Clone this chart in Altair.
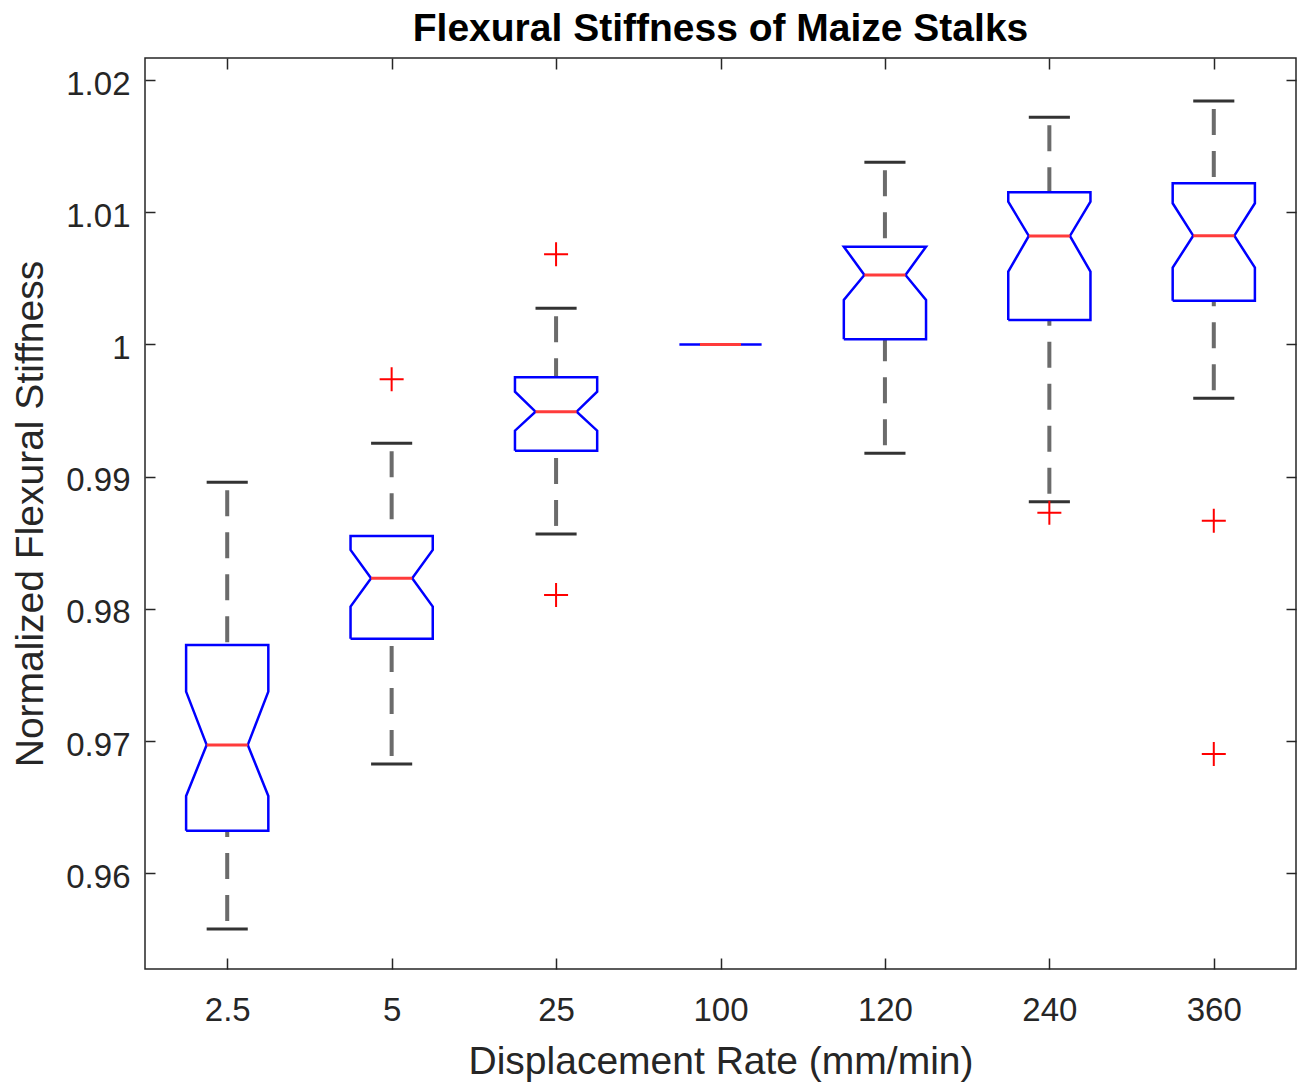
import json
import altair as alt
import pandas as pd

# ---------------- data ----------------
categories = ["2.5", "5", "25", "100", "120", "240", "360"]
whisker_low = [0.95579, 0.96827, 0.98567, 1.00000, 0.99177, 0.98811, 0.99593]
q1 = [0.96322, 0.97775, 0.99197, 1.00000, 1.00039, 1.00185, 1.00331]
notch_low = [0.96585, 0.98017, 0.99348, 1.00000, 1.00337, 1.00551, 1.00581]
median = [0.96971, 0.98231, 0.99492, 1.00000, 1.00526, 1.00821, 1.00823]
notch_high = [0.97374, 0.98446, 0.99643, 1.00000, 1.00740, 1.01080, 1.01068]
q3 = [0.97727, 0.98551, 0.99752, 1.00000, 1.00740, 1.01151, 1.01219]
whisker_high = [0.98958, 0.99253, 1.00274, 1.00000, 1.01378, 1.01719, 1.01842]
outlier_group = ["5", "25", "25", "240", "360", "360"]
outlier_value = [0.99737, 1.00682, 0.98105, 0.98728, 0.98667, 0.96902]
y_ticks = [0.96, 0.97, 0.98, 0.99, 1.0, 1.01, 1.02]

# ---------------- styling constants ----------------
BOX_HALF = 0.25
NOTCH_HALF = 0.125
CAP_HALF = 0.125
FONT = "Liberation Sans"
AXCOL = "#262626"
PLOT_W, PLOT_H = 1151, 911

# ---------------- derived tables ----------------
poly_rows, whisk_rows, cap_rows, med_rows = [], [], [], []
for i, c in enumerate(categories):
    xc = i + 1
    verts = [
        (-BOX_HALF, q1[i]), (-BOX_HALF, notch_low[i]), (-NOTCH_HALF, median[i]),
        (-BOX_HALF, notch_high[i]), (-BOX_HALF, q3[i]), (BOX_HALF, q3[i]),
        (BOX_HALF, notch_high[i]), (NOTCH_HALF, median[i]), (BOX_HALF, notch_low[i]),
        (BOX_HALF, q1[i]), (-BOX_HALF, q1[i]),
    ]
    for k, (dx, yv) in enumerate(verts):
        poly_rows.append({"box": c, "order": k, "x": xc + dx, "y": yv})
    whisk_rows.append({"x": xc, "y": whisker_high[i], "y2": q3[i]})
    whisk_rows.append({"x": xc, "y": whisker_low[i], "y2": q1[i]})
    cap_rows.append({"x": xc - CAP_HALF, "x2": xc + CAP_HALF, "y": whisker_high[i]})
    cap_rows.append({"x": xc - CAP_HALF, "x2": xc + CAP_HALF, "y": whisker_low[i]})
    med_rows.append({"x": xc - NOTCH_HALF, "x2": xc + NOTCH_HALF, "y": median[i]})

poly_df = pd.DataFrame(poly_rows)
whisk_df = pd.DataFrame(whisk_rows)
cap_df = pd.DataFrame(cap_rows)
med_df = pd.DataFrame(med_rows)
out_df = pd.DataFrame({
    "x": [categories.index(g) + 1 for g in outlier_group],
    "y": outlier_value,
})

xscale = alt.Scale(domain=[0.5, 7.5], nice=False, zero=False)
yscale = alt.Scale(domain=[0.95276, 1.02167], nice=False, zero=False)

label_expr = json.dumps(categories) + "[datum.value - 1]"

x_bottom = alt.Axis(
    orient="bottom", values=list(range(1, 8)), labelExpr=label_expr,
    offset=-11, tickSize=11, tickWidth=1.5, tickColor=AXCOL, domain=False, grid=False,
    labelPadding=25, labelFontSize=33, labelFont=FONT, labelColor=AXCOL,
    title="Displacement Rate (mm/min)", titleFont=FONT, titleFontSize=39,
    titleFontWeight="normal", titleColor=AXCOL, titleBaseline="alphabetic",
    titleX=PLOT_W / 2, titleY=115, titleAlign="center",
)
x_top = alt.Axis(
    orient="top", values=list(range(1, 8)), offset=-11, tickSize=11, tickWidth=1.5,
    tickColor=AXCOL, domain=False, grid=False, labels=False, title=None,
)
y_left = alt.Axis(
    orient="left", values=y_ticks, format="~g",
    offset=-10, tickSize=10, tickWidth=1.5, tickColor=AXCOL, domain=False, grid=False,
    labelPadding=15, labelFontSize=33, labelFont=FONT, labelColor=AXCOL, labelOffset=4,
    title="Normalized Flexural Stiffness", titleFont=FONT, titleFontSize=39,
    titleFontWeight="normal", titleColor=AXCOL, titleBaseline="alphabetic",
    titleAngle=270, titleX=-113, titleY=PLOT_H / 2, titleAlign="center",
)
y_right = alt.Axis(
    orient="right", values=y_ticks, offset=-10, tickSize=10, tickWidth=1.5,
    tickColor=AXCOL, domain=False, grid=False, labels=False, title=None,
)

whiskers = alt.Chart(whisk_df).mark_rule(
    color="#6b6b6b", strokeWidth=4, strokeDash=[26, 16], strokeDashOffset=34
).encode(
    x=alt.X("x:Q", scale=xscale, axis=x_top),
    y=alt.Y("y:Q", scale=yscale, axis=y_right),
    y2="y2:Q",
)

caps = alt.Chart(cap_df).mark_rule(color="#333333", strokeWidth=3).encode(
    x=alt.X("x:Q", scale=xscale, axis=None),
    x2="x2:Q",
    y=alt.Y("y:Q", scale=yscale, axis=None),
)

boxes = alt.Chart(poly_df).mark_line(color="#0000ff", strokeWidth=2.5, strokeJoin="miter").encode(
    x=alt.X("x:Q", scale=xscale, axis=x_bottom),
    y=alt.Y("y:Q", scale=yscale, axis=y_left),
    order="order:Q",
    detail="box:N",
)

medians = alt.Chart(med_df).mark_rule(color="#ff3b3b", strokeWidth=3).encode(
    x=alt.X("x:Q", scale=xscale, axis=None),
    x2="x2:Q",
    y=alt.Y("y:Q", scale=yscale, axis=None),
)

outliers = alt.Chart(out_df).mark_point(
    shape="M-1,0H1M0,-1V1", size=576, color="#ff0000", filled=False, strokeWidth=2, opacity=1
).encode(
    x=alt.X("x:Q", scale=xscale, axis=None),
    y=alt.Y("y:Q", scale=yscale, axis=None),
)

chart = alt.layer(whiskers, caps, boxes, medians, outliers).properties(
    width=PLOT_W,
    height=PLOT_H,
    title=alt.TitleParams(
        "Flexural Stiffness of Maize Stalks", font=FONT, fontSize=39, fontWeight="bold",
        color="#000000", baseline="alphabetic", offset=16, dy=39, anchor="middle",
    ),
    autosize=alt.AutoSizeParams(type="none"),
    padding={"left": 145, "top": 58, "right": 2, "bottom": 113},
    background="white",
).configure_view(stroke=AXCOL, strokeWidth=1.5)

chart.save("out.html", embed_options={"renderer": "svg", "actions": False})
